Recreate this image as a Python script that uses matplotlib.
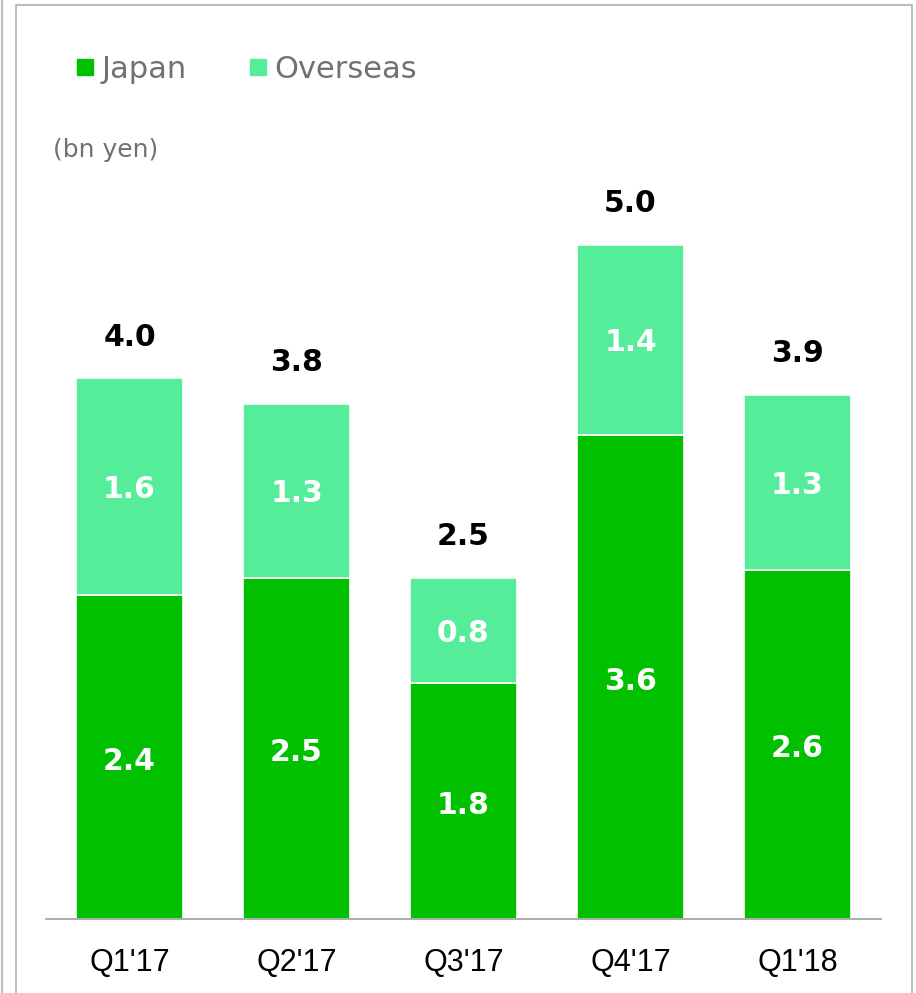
import matplotlib

matplotlib.use("Agg")
import matplotlib.pyplot as plt
from matplotlib.lines import Line2D
import numpy as np

quarters = ["Q1'17", "Q2'17", "Q3'17", "Q4'17", "Q1'18"]
japan = [2.40, 2.53, 1.75, 3.59, 2.59]
overseas = [1.61, 1.29, 0.78, 1.41, 1.30]
japan_labels = ["2.4", "2.5", "1.8", "3.6", "2.6"]
overseas_labels = ["1.6", "1.3", "0.8", "1.4", "1.3"]
total_labels = ["4.0", "3.8", "2.5", "5.0", "3.9"]

JAPAN_COLOR = "#00c000"
OVERSEAS_COLOR = "#55ec9a"
GRAY_TEXT = "#747070"
FRAME = "#bdbdbd"

W, H = 916, 993
fig = plt.figure(figsize=(W / 100, H / 100), dpi=100)
plt.rcParams["font.family"] = ["DejaVu Sans"]


def fx(px):
    return px / W


def fy(py):
    return 1 - py / H


# axes: baseline at y=919, spans x 46..881
ax = fig.add_axes([fx(46), fy(919), fx(881) - fx(46), fy(170) - fy(919)])
x = np.arange(len(quarters))
width = 0.635
japan_arr = np.array(japan)
overseas_arr = np.array(overseas)

ax.bar(x, japan_arr, width, color=JAPAN_COLOR, edgecolor="white", linewidth=1.2, label="Japan")
ax.bar(x, overseas_arr, width, bottom=japan_arr, color=OVERSEAS_COLOR, edgecolor="white",
       linewidth=1.2, label="Overseas")

for i in range(len(x)):
    ax.annotate(japan_labels[i], (x[i], japan_arr[i] / 2), xytext=(0, -3),
                textcoords="offset points", ha="center", va="center",
                color="white", fontsize=21.5, fontweight="bold")
    ax.annotate(overseas_labels[i], (x[i], japan_arr[i] + overseas_arr[i] / 2), xytext=(0, -2),
                textcoords="offset points", ha="center", va="center",
                color="white", fontsize=21.5, fontweight="bold")
    ax.annotate(total_labels[i], (x[i], japan_arr[i] + overseas_arr[i]), xytext=(0, 23.5),
                textcoords="offset points", ha="center", va="baseline", color="black",
                fontsize=21.5, fontweight="bold")

ax.set_xlim(-0.5, 4.5)
ax.set_ylim(0, (919 - 170) / 134.8)
ax.set_xticks(x)
ax.set_xticklabels(quarters, fontsize=22, family=["Liberation Sans Narrow", "Liberation Sans"])
ax.tick_params(axis="x", length=0, pad=21)
ax.set_yticks([])
for side in ["top", "right", "left"]:
    ax.spines[side].set_visible(False)
ax.spines["bottom"].set_color("#a6a6a6")
ax.spines["bottom"].set_linewidth(1.3)

handles = [
    Line2D([], [], marker="s", linestyle="none", markersize=11.5, color=JAPAN_COLOR),
    Line2D([], [], marker="s", linestyle="none", markersize=11.5, color=OVERSEAS_COLOR),
]
fig.legend(handles, ["Japan", "Overseas"], loc="center left", bbox_to_anchor=(fx(76), fy(69)),
           ncol=2, frameon=False, fontsize=22, labelcolor=GRAY_TEXT, handlelength=0.6,
           handletextpad=0.25, columnspacing=2.0, borderpad=0, borderaxespad=0)

fig.text(fx(53), fy(157), "(bn yen)", fontsize=18, color=GRAY_TEXT, ha="left", va="baseline")

# outer slide frame
fig.add_artist(Line2D([fx(2), fx(2)], [0, 1], color=FRAME, linewidth=1.5))
fig.add_artist(Line2D([fx(16), fx(16), fx(912), fx(912)], [0, fy(5), fy(5), 0],
                      color=FRAME, linewidth=1.5))

fig.savefig("out.png", dpi=100)
plt.close(fig)
